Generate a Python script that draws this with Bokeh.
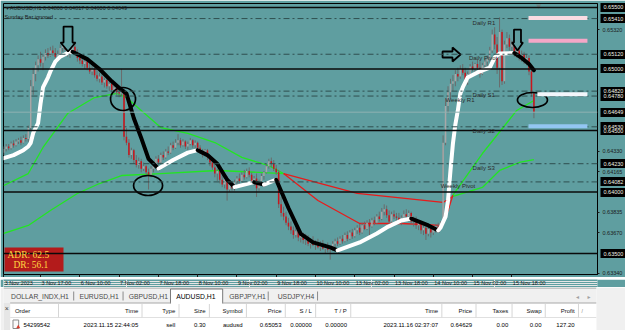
from bokeh.plotting import figure
from bokeh.models import Range1d, FixedTicker, PrintfTickFormatter, Span, Label, LinearAxis
from bokeh.layouts import column
from bokeh.embed import file_html
from bokeh.resources import INLINE
from bokeh.core.properties import value

TEAL = "#5F9EA0"
FONT = "Liberation Sans"

# ------------------------------------------------------------------ data
# H1 candles, prices in points (1e-5)
bar_open = [
    64320, 64350, 64370, 64355, 64395, 64380, 64410, 64420, 64400, 64440,
    64430, 64520, 64860, 64960, 65030, 65080, 65050, 65100, 65130, 65110,
    65150, 65130, 65100, 65120, 65170, 65190, 65160, 65120, 65150, 65180,
    65130, 65090, 65070, 65040, 65060, 65010, 64980, 65000, 64950, 64920,
    64940, 64890, 64910, 64860, 64880, 64830, 64850, 64810, 64800, 64820,
    64450, 64400, 64300, 64340, 64260, 64220, 64250, 64190, 64210, 64160,
    64140, 64190, 64230, 64270, 64240, 64300, 64280, 64330, 64320, 64380,
    64360, 64400, 64420, 64380, 64410, 64370, 64390, 64420, 64380, 64400,
    64360, 64330, 64300, 64340, 64280, 64240, 64200, 64150, 64170, 64100,
    64060, 64110, 64020, 64060, 64030, 64080, 64110, 64090, 64140, 64120,
    64170, 64140, 64080, 64110, 64030, 64090, 64130, 64160, 64210, 64250,
    64230, 64190, 64160, 63900, 63830, 63800, 63750, 63720, 63690, 63650,
    63680, 63630, 63650, 63610, 63630, 63580, 63600, 63570, 63590, 63550,
    63580, 63540, 63560, 63530, 63540, 63580, 63600, 63580, 63620, 63600,
    63650, 63620, 63670, 63640, 63690, 63710, 63670, 63730, 63700, 63750,
    63720, 63770, 63750, 63800, 63780, 63840, 63860, 63810, 63760, 63820,
    63800, 63790, 63770, 63790, 63820, 63800, 63830, 63760, 63780, 63730,
    63750, 63690, 63710, 63660, 63700, 63670, 63700, 63720, 63700, 63740,
    64400, 64700, 64810, 64880, 64900, 64960, 64940, 65000, 64970, 64890,
    64960, 65020, 65000, 65040, 65010, 64960, 65030, 65060, 65080, 65150,
    65280, 65200, 65010, 65300, 64900, 65200, 65250, 65180, 65200, 65130,
    65150, 65100, 65120, 65070, 65090, 64980, 64800,
]
bar_high = [
    64370, 64390, 64390, 64410, 64420, 64430, 64440, 64450, 64460, 64470,
    64540, 64910, 65010, 65060, 65110, 65140, 65120, 65160, 65170, 65180,
    65190, 65170, 65150, 65200, 65220, 65230, 65200, 65170, 65220, 65210,
    65160, 65120, 65110, 65090, 65080, 65050, 65030, 65020, 64990, 64970,
    64960, 64930, 64920, 64900, 64890, 64870, 64880, 64840, 65000, 64840,
    64520, 64430, 64360, 64350, 64300, 64280, 64270, 64240, 64220, 64190,
    64210, 64250, 64290, 64300, 64320, 64330, 64350, 64370, 64400, 64410,
    64430, 64470, 64440, 64430, 64420, 64410, 64440, 64430, 64420, 64410,
    64380, 64350, 64350, 64350, 64300, 64270, 64230, 64190, 64180, 64140,
    64120, 64130, 64080, 64090, 64100, 64130, 64150, 64160, 64180, 64190,
    64200, 64160, 64130, 64150, 64100, 64150, 64170, 64230, 64270, 64280,
    64260, 64220, 64180, 63960, 63880, 63840, 63790, 63760, 63720, 63710,
    63700, 63680, 63670, 63660, 63650, 63620, 63640, 63610, 63620, 63600,
    63610, 63580, 63590, 63560, 63600, 63620, 63630, 63640, 63650, 63670,
    63680, 63690, 63700, 63710, 63730, 63740, 63750, 63760, 63770, 63780,
    63790, 63800, 63820, 63840, 63870, 63900, 63890, 63850, 63840, 63850,
    63830, 63830, 63810, 63850, 63860, 63850, 63840, 63800, 63800, 63770,
    63760, 63730, 63740, 63720, 63730, 63720, 63740, 63750, 63760, 64460,
    64760, 64860, 64920, 64950, 64990, 65010, 65030, 65040, 65010, 64980,
    65040, 65060, 65050, 65080, 65070, 65050, 65090, 65110, 65180, 65320,
    65340, 65260, 65420, 65320, 65230, 65300, 65280, 65230, 65220, 65180,
    65170, 65150, 65140, 65120, 65110, 65000, 64817,
]
bar_low = [
    64300, 64330, 64340, 64345, 64360, 64370, 64390, 64380, 64395, 64410,
    64410, 64500, 64790, 64900, 64980, 65020, 64990, 65070, 65090, 65100,
    65110, 65080, 65060, 65110, 65140, 65150, 65100, 65090, 65130, 65110,
    65060, 65040, 65020, 65000, 64990, 64960, 64950, 64930, 64900, 64890,
    64870, 64850, 64840, 64820, 64810, 64800, 64790, 64770, 64780, 64420,
    64380, 64280, 64270, 64230, 64200, 64190, 64160, 64170, 64130, 64020,
    64120, 64160, 64200, 64220, 64230, 64260, 64270, 64300, 64310, 64340,
    64350, 64380, 64360, 64370, 64350, 64340, 64380, 64360, 64350, 64340,
    64310, 64280, 64290, 64260, 64210, 64180, 64120, 64090, 64070, 64040,
    64030, 63930, 64000, 64010, 64010, 64050, 64070, 64080, 64100, 64110,
    64120, 64060, 64050, 63960, 64010, 64080, 64100, 64150, 64190, 64200,
    64170, 64140, 63870, 63800, 63770, 63730, 63690, 63660, 63620, 63630,
    63600, 63590, 63580, 63570, 63560, 63540, 63560, 63530, 63540, 63520,
    63530, 63500, 63510, 63450, 63520, 63550, 63560, 63570, 63580, 63590,
    63600, 63610, 63620, 63630, 63660, 63650, 63660, 63690, 63690, 63640,
    63710, 63730, 63740, 63760, 63770, 63810, 63790, 63720, 63750, 63780,
    63760, 63740, 63730, 63770, 63780, 63760, 63740, 63720, 63700, 63690,
    63660, 63650, 63610, 63640, 63630, 63650, 63670, 63680, 63690, 63730,
    64380, 64640, 64760, 64820, 64860, 64900, 64920, 64950, 64860, 64870,
    64940, 64980, 64960, 64990, 64930, 64950, 65000, 65020, 65060, 65130,
    65160, 64960, 64850, 64870, 64880, 65170, 65150, 65130, 65100, 65090,
    65070, 65060, 65040, 65030, 64950, 64780, 64600,
]
bar_close = [
    64350, 64370, 64355, 64395, 64380, 64410, 64420, 64400, 64440, 64430,
    64520, 64860, 64960, 65030, 65080, 65050, 65100, 65130, 65110, 65150,
    65130, 65100, 65120, 65170, 65190, 65160, 65120, 65150, 65180, 65130,
    65090, 65070, 65040, 65060, 65010, 64980, 65000, 64950, 64920, 64940,
    64890, 64910, 64860, 64880, 64830, 64850, 64810, 64800, 64820, 64450,
    64400, 64300, 64340, 64260, 64220, 64250, 64190, 64210, 64160, 64140,
    64190, 64230, 64270, 64240, 64300, 64280, 64330, 64320, 64380, 64360,
    64400, 64420, 64380, 64410, 64370, 64390, 64420, 64380, 64400, 64360,
    64330, 64300, 64340, 64280, 64240, 64200, 64150, 64170, 64100, 64060,
    64110, 64020, 64060, 64030, 64080, 64110, 64090, 64140, 64120, 64170,
    64140, 64080, 64110, 64030, 64090, 64130, 64160, 64210, 64250, 64230,
    64190, 64160, 63900, 63830, 63800, 63750, 63720, 63690, 63650, 63680,
    63630, 63650, 63610, 63630, 63580, 63600, 63570, 63590, 63550, 63580,
    63540, 63560, 63530, 63540, 63580, 63600, 63580, 63620, 63600, 63650,
    63620, 63670, 63640, 63690, 63710, 63670, 63730, 63700, 63750, 63720,
    63770, 63750, 63800, 63780, 63840, 63860, 63810, 63760, 63820, 63800,
    63790, 63770, 63790, 63820, 63800, 63830, 63760, 63780, 63730, 63750,
    63690, 63710, 63660, 63700, 63670, 63700, 63720, 63700, 63740, 64400,
    64700, 64810, 64880, 64900, 64960, 64940, 65000, 64970, 64890, 64960,
    65020, 65000, 65040, 65010, 64960, 65030, 65060, 65080, 65150, 65280,
    65200, 65010, 65300, 64900, 65200, 65250, 65180, 65200, 65130, 65150,
    65100, 65120, 65070, 65090, 64980, 64800, 64649,
]

# time axis (bar index -> label)
time_tick_bar = [0, 15, 31, 47, 63, 79, 95, 111, 127, 143, 159, 175, 191, 207]
time_tick_label = ["3 Nov 2023", "3 Nov 17:00", "6 Nov 10:00", "7 Nov 02:00", "7 Nov 18:00",
                   "8 Nov 10:00", "9 Nov 02:00", "9 Nov 18:00", "10 Nov 10:00", "13 Nov 02:00",
                   "13 Nov 18:00", "14 Nov 10:00", "15 Nov 02:00", "15 Nov 18:00"]

# price axis regular ticks
price_ticks = [0.63340, 0.63670, 0.63835, 0.64165, 0.64330, 0.65320]

# thick trend indicator (white = rising, black = falling)
trend_bar = [0, 4, 8, 10, 11, 12, 14, 15, 16, 18, 19, 20, 21, 23, 26, 28, 34, 39, 44, 48,
             50, 53, 56, 59, 63, 69, 75, 79, 83, 87, 91, 94, 100, 102, 106, 111, 116, 121, 126, 133,
             136, 145, 152, 156, 162, 166, 173, 177, 178, 180, 181, 182, 183, 184, 185, 186, 187, 189, 193, 198,
             200, 202, 208, 211, 214, 216]
trend_val = [64275, 64300, 64340, 64370, 64400, 64480, 64560, 64720, 64850, 64930,
             64980, 65020, 65060, 65100, 65130, 65140, 65080, 65000, 64900, 64830,
             64800, 64600, 64440, 64270, 64190, 64260, 64320, 64340, 64300, 64230,
             64100, 64040, 64070, 64080, 64060, 64100, 63870, 63660, 63590, 63550,
             63525, 63590, 63663, 63712, 63768, 63784, 63728, 63687, 63712, 63800,
             63931, 64175, 64394, 64550, 64663, 64800, 64850, 64931, 64972, 65012,
             65093, 65126, 65130, 65090, 65040, 64990]
trend_state = list("uuuuuuuuuu" "uuuuuudddd" "ddddduuudd" "dduududddd" "duuuuudduu" "uuuuuuuuuu" "uuuddd")

# moving averages (g = green, r = red)
ma_fast_bar = [0, 10, 16, 26, 37, 46, 50, 56, 64, 75, 86, 97, 108, 114, 128, 145, 162, 178, 181, 183, 195, 209, 216]
ma_fast_val = [64053, 64150, 64362, 64638, 64768, 64801, 64768, 64663, 64524, 64476, 64402, 64281,
               64215, 64150, 63931, 63744, 63744, 63728, 63850, 63975, 64313, 64663, 64744]
ma_fast_state = list("gggggggggggggg" "rrrrrr" "ggg")
ma_slow_bar = [0, 10, 19, 30, 39, 48, 64, 87, 114, 144, 179, 183, 195, 202, 210, 216]
ma_slow_val = [63663, 63728, 63850, 63988, 64069, 64134, 64150, 64175, 64150, 63988, 63915, 63965,
               64037, 64175, 64240, 64264]
ma_slow_state = list("ggggggggg" "rrr" "gggg")

# horizontal levels
round_levels = [0.65500, 0.65000, 0.64500, 0.64000, 0.63500]
pivot_levels = [0.65410, 0.65120, 0.64820, 0.64780, 0.64530, 0.64230, 0.64082]
pivot_names = ["Daily R1", "Daily Pivot", "Daily S1", "Weekly R1", "Daily S2", "Daily S3", "Weekly Pivot"]
pivot_name_bar = [191, 189.5, 191, 180, 191, 191, 178]
bid_price = 0.64649
axis_marks = [0.65500, 0.65410, 0.65120, 0.65000, 0.64820, 0.64780, 0.64649,
              0.64530, 0.64500, 0.64230, 0.64082, 0.64000, 0.63500]

# pivot zones drawn at the right
zone_levels = [0.65415, 0.65230, 0.64795, 0.64535]
zone_colors = ["#F9DCE2", "#F4A7C7", "#F3F6FB", "#93C6F2"]
zone_start = [213.8, 213.8, 217.4, 213.8]
zone_end = [237.8, 237.8, 237.8, 237.8]

# marked objects
ellipse_bar = [48.6, 58.8, 215.4]
ellipse_price = [0.64756, 0.64053, 0.64748]
ellipse_w_px = [25, 29, 30]
ellipse_h_px = [23, 20, 15]
arrow_bar = [26.2, 186.1, 209.3]
arrow_price = [0.65142, 0.65118, 0.65150]
arrow_dir = ["down", "right", "down"]

header_text = "\u25be AUDUSD,H1  0.64800 0.64817 0.64600 0.64649"
adr_value = 62.5
dr_value = 56.1

tabs = ["DOLLAR_INDX,H1", "EURUSD,H1", "GBPUSD,H1", "AUDUSD,H1", "GBPJPY,H1", "USDJPY,H4"]
active_tab = "AUDUSD,H1"
table_headers = ["Order", "Time", "Type", "Size", "Symbol", "Price", "S / L", "T / P",
                 "Time", "Price", "Taxes", "Swap", "Profit"]
table_row = ["54299542", "2023.11.15 22:44:05", "sell", "0.30", "audusd", "0.65053", "0.00000",
             "0.00000", "2023.11.16 02:37:07", "0.64629", "0.00", "0.00", "127.20"]

# ------------------------------------------------------------------ layout constants
FRAME_W, FRAME_H = 594, 271
X_START, X_END = -0.1, 241.9
Y_START, Y_END = 0.633293, 0.655325
PXB = FRAME_W / (X_END - X_START)
PXP = FRAME_H / (Y_END - Y_START)


def dx(px):
    return px / PXB


def dy(px):
    return px / PXP


S = 1e-5
O = [v * S for v in bar_open]
H = [v * S for v in bar_high]
L = [v * S for v in bar_low]
C = [v * S for v in bar_close]
idx = list(range(len(C)))

p = figure(frame_width=FRAME_W, frame_height=FRAME_H,
           x_range=Range1d(X_START, X_END), y_range=Range1d(Y_START, Y_END),
           y_axis_location="right", toolbar_location=None, output_backend="svg",
           min_border_left=3, min_border_right=28, min_border_top=3, min_border_bottom=3,
           background_fill_color=TEAL, border_fill_color=TEAL,
           outline_line_color="black", outline_line_width=1)
p.grid.visible = False

# price scale: regular ticks
p.yaxis.ticker = FixedTicker(ticks=price_ticks)
p.yaxis.formatter = PrintfTickFormatter(format="%.5f")
p.yaxis.major_label_text_font = FONT
p.yaxis.major_label_text_font_size = "5.5px"
p.yaxis.major_label_text_color = "#1c1c1c"
p.yaxis.major_tick_out = 2
p.yaxis.major_tick_in = 0
p.yaxis.minor_tick_out = 0
p.yaxis.minor_tick_in = 0
p.yaxis.major_label_standoff = 3
p.yaxis.axis_line_color = "black"
p.yaxis.major_tick_line_color = "#1c1c1c"

# price scale: highlighted marks of lines (black boxes from thick ticks)
hl_axis = LinearAxis(ticker=FixedTicker(ticks=axis_marks),
                     formatter=PrintfTickFormatter(format="%.5f"),
                     axis_line_color=None,
                     major_tick_in=25, major_tick_out=3, major_tick_line_color="black",
                     major_tick_line_width=9, major_tick_line_cap="butt",
                     minor_tick_in=0, minor_tick_out=0,
                     major_label_standoff=-25,
                     major_label_text_font=FONT, major_label_text_font_size="5.5px",
                     major_label_text_color="#F2F2E6")
p.add_layout(hl_axis, "right")

# time scale: tick marks (labels are written in the strip below, left aligned)
p.xaxis.ticker = FixedTicker(ticks=time_tick_bar)
p.xaxis.major_label_overrides = {b: "" for b in time_tick_bar}
p.xaxis.major_label_text_font_size = "1px"
p.xaxis.major_label_standoff = 0
p.xaxis.major_tick_out = 3
p.xaxis.major_tick_in = 0
p.xaxis.minor_tick_out = 0
p.xaxis.minor_tick_in = 0
p.xaxis.axis_line_color = "black"
p.xaxis.major_tick_line_color = "#1c1c1c"

# ADR box (background)
p.quad(left=[X_START + dx(1)], right=[X_START + dx(60)],
       bottom=[Y_START + dy(3)], top=[Y_START + dy(27)],
       fill_color="#B31B1B", line_color=None)


def build_runs(xs, vs, states):
    seg_x, seg_y, seg_s = [], [], []
    cur_x, cur_y, cur_s = [xs[0]], [vs[0]], states[1]
    for k in range(1, len(xs)):
        s = states[k]
        if s != cur_s:
            seg_x.append(cur_x)
            seg_y.append(cur_y)
            seg_s.append(cur_s)
            cur_x, cur_y, cur_s = [xs[k - 1]], [vs[k - 1]], s
        cur_x.append(xs[k])
        cur_y.append(vs[k])
    seg_x.append(cur_x)
    seg_y.append(cur_y)
    seg_s.append(cur_s)
    return seg_x, seg_y, seg_s


ma_colors = {"g": "#22E622", "r": "#E81B1B"}
for bars, vals, states in [(ma_slow_bar, ma_slow_val, ma_slow_state),
                           (ma_fast_bar, ma_fast_val, ma_fast_state)]:
    sx, sy, ss = build_runs(bars, [v * S for v in vals], states)
    p.multi_line(xs=sx, ys=sy, line_color=[ma_colors[s] for s in ss], line_width=1.3)

# candles
body_top = [max(a, b) for a, b in zip(O, C)]
body_bot = [min(a, b) for a, b in zip(O, C)]
body_col = ["#A8A8A8" if c >= o else "#C8161D" for o, c in zip(O, C)]
p.segment(x0=idx, y0=L, x1=idx, y1=H, line_color="#6A6A6A", line_width=1)
p.vbar(x=idx, top=body_top, bottom=body_bot, width=0.62, fill_color=body_col, line_color=None)

# thick trend line
tx, ty, ts = build_runs(trend_bar, [v * S for v in trend_val], trend_state)
p.multi_line(xs=tx, ys=ty, line_color=["#FFFFFF" if s == "u" else "#000000" for s in ts],
             line_width=4, line_join="round", line_cap="round")

# ellipses
p.ellipse(x=ellipse_bar, y=ellipse_price, width=ellipse_w_px, height=ellipse_h_px,
          width_units="screen", height_units="screen",
          fill_color=None, line_color="black", line_width=1.7)

# hollow arrows
axs, ays = [], []
for k, (bi, pr, d) in enumerate(zip(arrow_bar, arrow_price, arrow_dir)):
    if d == "down":
        g = dict(L=25, hl=9, hw=7.5, sw=4.5) if k == 0 else dict(L=21, hl=8, hw=5.5, sw=3.5)
        pts = [(0, 0), (-g["hw"], g["hl"]), (-g["sw"], g["hl"]), (-g["sw"], g["L"]),
               (g["sw"], g["L"]), (g["sw"], g["hl"]), (g["hw"], g["hl"])]
    else:
        g = dict(L=18, hl=8, hw=7, sw=3)
        pts = [(0, 0), (-g["hl"], g["hw"]), (-g["hl"], g["sw"]), (-g["L"], g["sw"]),
               (-g["L"], -g["sw"]), (-g["hl"], -g["sw"]), (-g["hl"], -g["hw"])]
    axs.append([bi + dx(a) for a, b in pts])
    ays.append([pr + dy(b) for a, b in pts])
p.patches(xs=axs, ys=ays, fill_color=TEAL, line_color="black", line_width=1.8)

# chart shift marker
p.scatter(x=[217.9], y=[Y_END - dy(2.5)], marker="inverted_triangle", size=5,
          fill_color="#6F8383", line_color=None)

# horizontal lines
for v in pivot_levels:
    p.add_layout(Span(location=v, dimension="width", line_color="#2F4F4F",
                      line_width=1, line_dash="6 3 2 3"))
p.add_layout(Span(location=bid_price, dimension="width", line_color="#8FB2B3", line_width=1))
for v in round_levels:
    p.add_layout(Span(location=v, dimension="width", line_color="#0A0A0A", line_width=1.6))

# pivot zones (on top of the lines)
p.quad(left=zone_start, right=zone_end,
       bottom=[v - dy(2) for v in zone_levels], top=[v + dy(2) for v in zone_levels],
       fill_color=zone_colors, line_color=None, level="overlay")

# pivot names
for name, v, b in zip(pivot_names, pivot_levels, pivot_name_bar):
    p.add_layout(Label(x=b, y=v - dy(1), text=name, text_font=FONT, text_font_size="6px",
                       text_color="#2A2A2A", text_align="left", text_baseline="top"))

# header texts
p.add_layout(Label(x=X_START + dx(2), y=Y_END - dy(1.5), text=header_text, text_font=FONT,
                   text_font_size="5.5px", text_color="#1A1A1A", text_align="left",
                   text_baseline="top"))
p.add_layout(Label(x=X_START + dx(1), y=Y_END - dy(10), text="Sunday Bar ignored", text_font=FONT,
                   text_font_size="5.5px", text_color="#1A1A1A", text_align="left",
                   text_baseline="top"))

# ADR texts
p.add_layout(Label(x=X_START + dx(4), y=Y_START + dy(20), text=f"ADR: {adr_value}",
                   text_font="Liberation Serif", text_font_size="9.5px", text_color="#FFD740",
                   text_align="left", text_baseline="middle"))
p.add_layout(Label(x=X_START + dx(10), y=Y_START + dy(10), text=f"DR: {dr_value}",
                   text_font="Liberation Serif", text_font_size="9.5px", text_color="#FFD740",
                   text_align="left", text_baseline="middle"))

# ------------------------------------------------------------------ time label strip
ts_fig = figure(frame_width=FRAME_W, frame_height=10, x_range=p.x_range, y_range=Range1d(0, 10),
                x_axis_location=None, y_axis_location=None, toolbar_location=None,
                output_backend="svg", min_border_left=3, min_border_right=28,
                min_border_top=0, min_border_bottom=0,
                background_fill_color=TEAL, border_fill_color=TEAL, outline_line_color=None)
ts_fig.text(x=[b + dx(1) for b in time_tick_bar], y=[7] * len(time_tick_bar), text=time_tick_label,
            text_font=value(FONT), text_font_size="5.5px", text_color="#1A1A1A",
            text_align="left", text_baseline="middle")

# ------------------------------------------------------------------ terminal panel
q = figure(width=625, height=43, x_range=Range1d(0, 625), y_range=Range1d(43, 0),
           x_axis_type=None, y_axis_type=None, toolbar_location=None, output_backend="svg",
           min_border=0, outline_line_color=None,
           background_fill_color="#F0F0F0", border_fill_color="#F0F0F0")

tab_left = [8, 80, 132, 182, 238, 289]
tab_sep = [74, 126, 279, 331]
col_sep = [58, 146, 185, 217, 256, 297, 329, 366, 462, 498, 536, 571, 606]

q.segment(x0=[0], y0=[0.5], x1=[625], y1=[0.5], line_color="#9A9A9A", line_width=1)
q.quad(left=[7], right=[625], top=[15.5], bottom=[43], fill_color="white", line_color=None)
q.quad(left=[0], right=[7], top=[15.5], bottom=[43], fill_color="#E6E6E6", line_color=None)
q.quad(left=[176], right=[231], top=[1.5], bottom=[16], fill_color="white", line_color=None)
q.multi_line(xs=[[176, 176, 231, 231]], ys=[[16, 1.5, 1.5, 16]], line_color="#7A7A7A", line_width=1)
q.segment(x0=[7, 231], y0=[15.5, 15.5], x1=[176, 625], y1=[15.5, 15.5], line_color="#A8A8A8", line_width=1)
q.segment(x0=tab_sep, y0=[4] * len(tab_sep), x1=tab_sep, y1=[13] * len(tab_sep),
          line_color="#8A8A8A", line_width=1)
q.text(x=tab_left, y=[8.8] * len(tabs), text=tabs, text_font=value(FONT), text_font_size="6.8px",
       text_color=["#000000" if t == active_tab else "#4A4A4A" for t in tabs],
       text_baseline="middle", text_align="left")
q.text(x=[605, 617], y=[8.5, 8.5], text=["\u25c2", "\u25b8"], text_font=value("DejaVu Sans"),
       text_font_size="6px", text_color="#A0A0A0", text_baseline="middle", text_align="center")

# table
q.segment(x0=[7], y0=[30], x1=[625], y1=[30], line_color="#E0E0E0", line_width=1)
q.segment(x0=col_sep, y0=[16.5] * len(col_sep), x1=col_sep, y1=[30] * len(col_sep),
          line_color="#D6D6D6", line_width=1)
q.text(x=[3.5], y=[20.5], text=["\u00d7"], text_font=value(FONT), text_font_size="7px",
       text_color="#404040", text_baseline="middle", text_align="center")
q.text(x=[12], y=[23.5], text=[table_headers[0]], text_font=value(FONT), text_font_size="6px",
       text_color="#111111", text_baseline="middle", text_align="left")
q.text(x=[s - 4 for s in col_sep[1:]], y=[23.5] * (len(table_headers) - 1), text=table_headers[1:],
       text_font=value(FONT), text_font_size="6px", text_color="#111111",
       text_baseline="middle", text_align="right")
q.text(x=[610], y=[23.5], text=["/"], text_font=value(FONT), text_font_size="5px",
       text_color="#808080", text_baseline="middle", text_align="center")
q.quad(left=[10], right=[16], top=[32.5], bottom=[41], fill_color="#FAFAFA", line_color="#8A8A8A")
q.scatter(x=[15.5], y=[39.5], marker="triangle", size=4, fill_color="#D83A2A", line_color=None)
q.text(x=[21], y=[37], text=[table_row[0]], text_font=value(FONT), text_font_size="6px",
       text_color="#000000", text_baseline="middle", text_align="left")
q.text(x=[s - 4 for s in col_sep[1:]], y=[37] * (len(table_row) - 1), text=table_row[1:],
       text_font=value(FONT), text_font_size="6px", text_color="#000000",
       text_baseline="middle", text_align="right")

layout = column(p, ts_fig, q, spacing=0)
open("out.html", "w").write(file_html(layout, INLINE))
